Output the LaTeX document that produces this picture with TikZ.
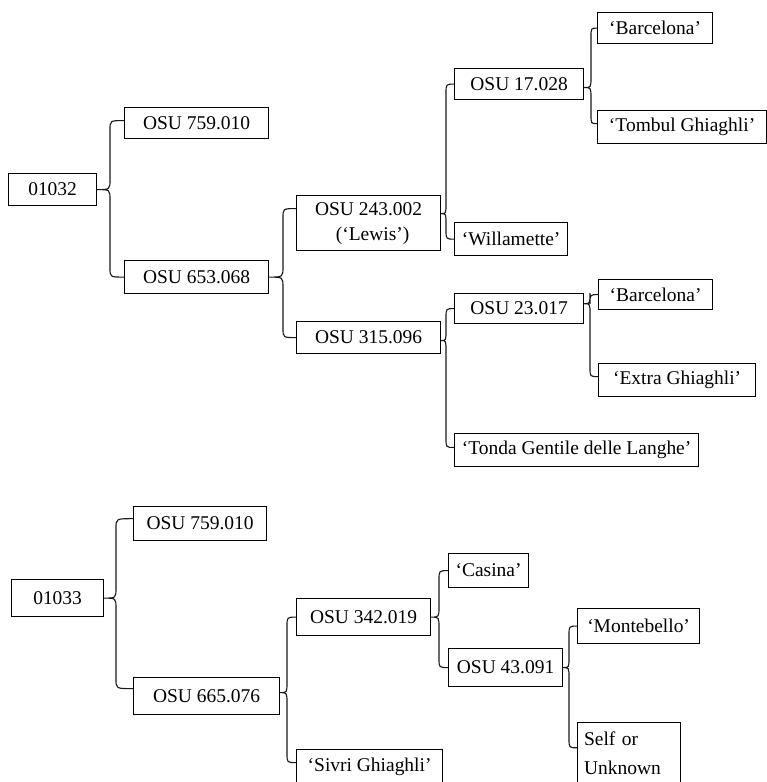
\documentclass[tikz,border=0pt]{standalone}
\usepackage{fontspec}
\setmainfont{Liberation Serif}
\usetikzlibrary{calc}
\tikzset{
  box/.style={draw, line width=0.9pt, inner sep=0pt, anchor=north west, align=center},
  wh/.style 2 args={minimum width=#1*0.75pt, minimum height=#2*0.75pt},
  conn/.style={line width=0.85pt, draw=black!90},
}
\newcommand{\brc}[4]{%
  \draw[conn] let \p1=(#1), \p2=(#3), \p3=(#4), \p4=(#2,0) in
   (\p2) .. controls (\x4,\y2) .. (\x4,\y2-7pt) -- (\x4,\y1+8pt) .. controls (\x4,\y1) .. (\p1)
   .. controls (\x4,\y1) .. (\x4,\y1-8pt) -- (\x4,\y3+7pt) .. controls (\x4,\y3) .. (\p3);}
\begin{document}
\begin{tikzpicture}[x=0.75pt, y=-0.75pt, font=\fontsize{14.6}{17}\selectfont]
\useasboundingbox (0,0) rectangle (767,782);
\clip (0,0) rectangle (767,782);
% top tree
\node[box, wh={88}{32}] (r1) at (8,173) {01032};
\node[box, wh={144}{31}] (a1) at (124,107) {OSU 759.010};
\node[box, wh={144}{33}] (b1) at (124,260) {OSU 653.068};
\node[box, wh={144}{55}, font=\fontsize{14.6}{18.75}\selectfont] (c1) at (296,195) {OSU 243.002\\\hspace*{6pt}(‘Lewis’)};
\node[box, wh={144}{32}] (d1) at (296,321) {OSU 315.096};
\node[box, wh={129}{31}] (e1) at (454,68) {OSU 17.028};
\node[box, wh={113}{33}] (f1) at (454,222) {‘Willamette’};
\node[box, wh={129}{30}] (g1) at (454,293) {OSU 23.017};
\node[box, wh={244}{33}] (h1) at (454,433) {‘Tonda Gentile delle Langhe’};
\node[box, wh={115}{31}] (i1) at (597,12) {‘Barcelona’};
\node[box, wh={169}{33}] (j1) at (597,110) {‘Tombul Ghiaghli’};
\node[box, wh={114}{30}] (k1) at (598,279) {‘Barcelona’};
\node[box, wh={157}{33}] (l1) at (598,363) {‘Extra Ghiaghli’};
% bottom tree
\node[box, wh={92}{37}] (r2) at (11,579) {01033};
\node[box, wh={133}{34}] (a2) at (133,506) {OSU 759.010};
\node[box, wh={146}{37}] (b2) at (133,677) {OSU 665.076};
\node[box, wh={134}{37}] (c2) at (296,598) {OSU 342.019};
\node[box, wh={146}{34}] (d2) at (296,749) {‘Sivri Ghiaghli’};
\node[box, wh={80}{34}] (e2) at (448,553) {‘Casina’};
\node[box, wh={114}{38}] (f2) at (448,648) {OSU 43.091};
\node[box, wh={122}{35}] (g2) at (577,608) {‘Montebello’};
\node[box, wh={103}{61}, text width=90*0.75pt, align=left, font=\fontsize{14.6}{21.75}\selectfont] (h2) at (577,722) {Self or\\Unknown};
% connectors
\brc{r1.east}{110}{[yshift=1.9pt]a1.west}{b1.west}
\brc{b1.east}{283}{[yshift=10.9pt]c1.west}{d1.west}
\brc{[yshift=7.1pt]c1.east}{446}{e1.west}{f1.west}
\brc{[yshift=-2.6pt]e1.east}{591}{i1.west}{[yshift=2.6pt]j1.west}
\brc{[yshift=-2.2pt]d1.east}{446}{g1.west}{[yshift=2pt]h1.west}
\brc{[yshift=3.7pt]g1.east}{590}{k1.west}{[yshift=2.6pt]l1.west}
\brc{r2.east}{116}{[yshift=3.7pt]a2.west}{[yshift=5.6pt]b2.west}
\brc{[yshift=2.6pt]b2.east}{287}{c2.west}{[yshift=3pt]d2.west}
\brc{c2.east}{439}{e2.west}{f2.west}
\brc{f2.east}{569}{g2.west}{[yshift=4pt]h2.west}
\end{tikzpicture}
\end{document}
